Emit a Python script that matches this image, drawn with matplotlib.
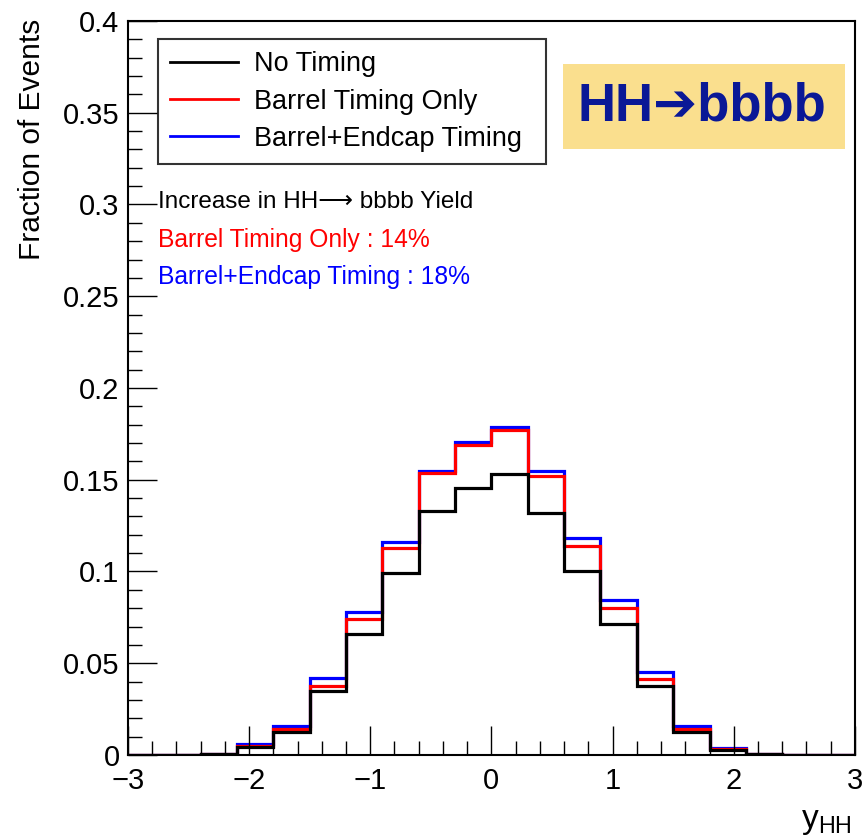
import numpy as np
import matplotlib
matplotlib.use("Agg")
import matplotlib.pyplot as plt
from matplotlib.ticker import MultipleLocator, FuncFormatter
from matplotlib.lines import Line2D
from matplotlib.patches import Rectangle

plt.rcParams['font.family'] = ['Liberation Sans', 'DejaVu Sans']
plt.rcParams['mathtext.fontset'] = 'dejavusans'

bin_edges = [-3.0, -2.7, -2.4, -2.1, -1.8, -1.5, -1.2, -0.9, -0.6, -0.3, 0.0,
             0.3, 0.6, 0.9, 1.2, 1.5, 1.8, 2.1, 2.4, 2.7, 3.0]
no_timing = [0.0, 0.0, 0.0004, 0.0044, 0.0126, 0.035, 0.066, 0.099, 0.133, 0.1455,
             0.153, 0.1317, 0.100, 0.0715, 0.0377, 0.0126, 0.0027, 0.0005, 0.0, 0.0]
barrel_only = [0.0, 0.0, 0.0005, 0.005, 0.014, 0.0377, 0.074, 0.1126, 0.1535, 0.169,
               0.177, 0.152, 0.114, 0.080, 0.0415, 0.014, 0.0034, 0.0006, 0.0, 0.0]
barrel_endcap = [0.0, 0.0, 0.0006, 0.006, 0.016, 0.042, 0.078, 0.116, 0.155, 0.1705,
                 0.179, 0.1547, 0.118, 0.0846, 0.045, 0.0158, 0.004, 0.0007, 0.0, 0.0]
labels = ["No Timing", "Barrel Timing Only", "Barrel+Endcap Timing"]
colors = ["black", "#ff0000", "#0000ff"]

fig = plt.figure(figsize=(8.64, 8.40), dpi=100)
ax = fig.add_axes([0.148, 0.1012, 0.8415, 0.8738])

lw = 2.3
ax.stairs(barrel_endcap, bin_edges, color=colors[2], lw=lw)
ax.stairs(barrel_only, bin_edges, color=colors[1], lw=lw)
ax.stairs(no_timing, bin_edges, color=colors[0], lw=lw)

ax.set_xlim(-3, 3)
ax.set_ylim(0, 0.4)
ax.xaxis.set_major_locator(MultipleLocator(1))
ax.xaxis.set_minor_locator(MultipleLocator(0.2))
ax.yaxis.set_major_locator(MultipleLocator(0.05))
ax.yaxis.set_minor_locator(MultipleLocator(0.01))

def yfmt(v, pos):
    return ("%.2f" % v).rstrip('0').rstrip('.')
ax.yaxis.set_major_formatter(FuncFormatter(yfmt))
ax.xaxis.set_major_formatter(FuncFormatter(lambda v, p: ("%d" % round(v)).replace('-', '\u2212')))

ax.tick_params(axis='both', which='major', direction='in', length=21, width=1.0,
               labelsize=21, top=False, right=False)
ax.tick_params(axis='both', which='minor', direction='in', length=10, width=1.0,
               top=False, right=False)
ax.tick_params(axis='x', pad=9)
ax.tick_params(axis='y', pad=6)
for sp in ax.spines.values():
    sp.set_linewidth(1.5)

ax.set_ylabel("Fraction of Events", fontsize=21.5)
ax.yaxis.set_label_coords(-0.113, 0.839)
fig.text(0.957, 0.003, r"y$_{\mathregular{HH}}$", fontsize=24, ha='center', va='bottom')

# legend box
handles = [Line2D([], [], color=c, lw=2.0) for c in colors]
leg = ax.legend(handles, labels, loc='upper left',
                bbox_to_anchor=(0.0413, 0.8104, 0.5337, 0.1651), mode='expand',
                fontsize=19.5, frameon=True, fancybox=False, edgecolor='black',
                handlelength=2.5, handletextpad=0.6, labelspacing=0.42,
                borderpad=0.45, borderaxespad=0.0)
leg.get_frame().set_linewidth(1.5)

ax.text(0.0413, 0.753, "Increase in HH\u27f6 bbbb Yield", transform=ax.transAxes,
        fontsize=17.5, color='black', va='center', ha='left',
        family=['Liberation Sans', 'DejaVu Sans'])
ax.text(0.0413, 0.701, "Barrel Timing Only : 14%", transform=ax.transAxes,
        fontsize=17.7, color='#ff0000', va='center', ha='left')
ax.text(0.0413, 0.651, "Barrel+Endcap Timing : 18%", transform=ax.transAxes,
        fontsize=17.7, color='#0000ff', va='center', ha='left')

# HH -> bbbb box
ax.add_patch(Rectangle((0.599, 0.825), 0.388, 0.117, transform=ax.transAxes,
                       facecolor='#fadf8e', edgecolor='none', zorder=1))
ax.text(0.790, 0.884, "HH\u2794bbbb", transform=ax.transAxes, fontsize=38,
        fontweight='bold', color='#0a1896', ha='center', va='center', zorder=2,
        family=['Liberation Sans', 'DejaVu Sans'])

fig.savefig("out.png", dpi=100)
